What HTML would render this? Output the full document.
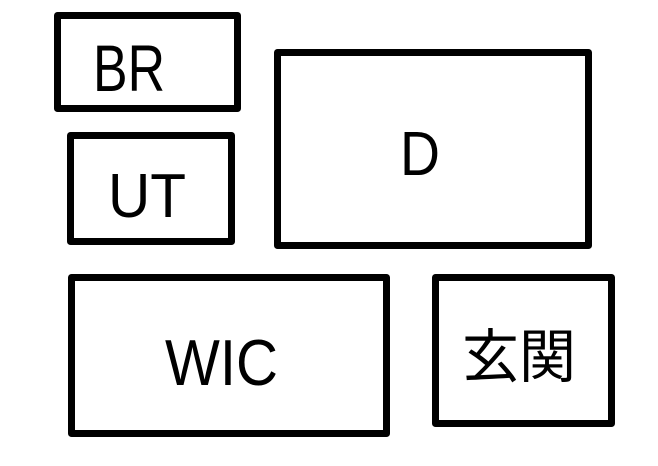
<!DOCTYPE html>
<html><head><meta charset="utf-8"><style>
html,body{margin:0;padding:0;background:#fff;}
svg{display:block;}
text{font-family:"Liberation Sans","Noto Sans CJK JP",sans-serif;fill:#000;}
</style></head><body>
<svg width="658" height="466" viewBox="0 0 658 466" xmlns="http://www.w3.org/2000/svg">
<g fill="none" stroke="#000" stroke-width="7" stroke-linejoin="round">
<rect x="57.5" y="15.5" width="180" height="93"/>
<rect x="70.5" y="135.5" width="161" height="106"/>
<rect x="277.5" y="52.5" width="311" height="193"/>
<rect x="71.5" y="277.5" width="315" height="156"/>
<rect x="435.5" y="277.5" width="176" height="146"/>
</g>
<text x="93" y="91" font-size="66" textLength="72" lengthAdjust="spacingAndGlyphs">BR</text>
<text x="108" y="217" font-size="62" textLength="78" lengthAdjust="spacingAndGlyphs">UT</text>
<text x="400" y="175" font-size="62" textLength="40" lengthAdjust="spacingAndGlyphs">D</text>
<text x="165" y="385" font-size="65" textLength="113" lengthAdjust="spacingAndGlyphs">WIC</text>
<text x="462" y="377" font-size="58" textLength="114" lengthAdjust="spacingAndGlyphs">玄関</text>
</svg>
</body></html>
